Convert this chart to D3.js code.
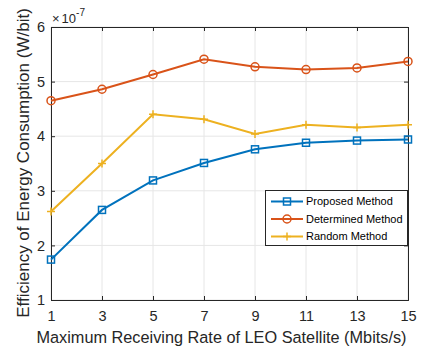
<!DOCTYPE html>
<html><head><meta charset="utf-8">
<script src="https://cdn.jsdelivr.net/npm/d3@7"></script>
<style>body{margin:0;background:#fff}svg{font-family:"Liberation Sans",Arial,sans-serif}</style>
</head><body><svg id="c" width="424" height="350"></svg>
<script>
const xValues = [1, 3, 5, 7, 9, 11, 13, 15];
const proposed = [1.74, 2.65, 3.19, 3.51, 3.76, 3.88, 3.92, 3.94];
const determined = [4.65, 4.86, 5.13, 5.41, 5.27, 5.22, 5.25, 5.37];
const randomM = [2.62, 3.50, 4.40, 4.31, 4.04, 4.21, 4.16, 4.21];
const yTicks = [1, 2, 3, 4, 5, 6];
const seriesNames = ["Proposed Method", "Determined Method", "Random Method"];
const colors = ["#0072BD", "#D95319", "#EDB120"];
const markers = ["square", "circle", "plus"];

const svg = d3.select("#c");
const L = 51, R = 408, T = 27, B = 300;
const x = d3.scaleLinear().domain([1, 15]).range([L, R]);
const y = d3.scaleLinear().domain([1, 6]).range([B, T]);
const axisCol = "#262626";

// grid
const g = svg.append("g");
g.selectAll(".gx").data(xValues).enter().append("line")
  .attr("x1", d => x(d)).attr("x2", d => x(d)).attr("y1", T).attr("y2", B)
  .attr("stroke", "#e6e6e6").attr("stroke-width", 1);
g.selectAll(".gy").data(yTicks).enter().append("line")
  .attr("x1", L).attr("x2", R).attr("y1", d => y(d)).attr("y2", d => y(d))
  .attr("stroke", "#e6e6e6").attr("stroke-width", 1);

// axes
const xa = svg.append("g").attr("transform", `translate(0,${B})`)
  .call(d3.axisBottom(x).tickValues(xValues).tickSize(-4).tickPadding(11).tickFormat(d3.format("d")));
const xt = svg.append("g").attr("transform", `translate(0,${T})`)
  .call(d3.axisTop(x).tickValues(xValues).tickSize(-4).tickFormat(""));
const ya = svg.append("g").attr("transform", `translate(${L},0)`)
  .call(d3.axisLeft(y).tickValues(yTicks).tickSize(-4).tickPadding(6).tickFormat(d3.format("d")));
const yr = svg.append("g").attr("transform", `translate(${R},0)`)
  .call(d3.axisRight(y).tickValues(yTicks).tickSize(-4).tickFormat(""));
[xa, xt, ya, yr].forEach(a => {
  a.selectAll("path").attr("stroke", axisCol).attr("stroke-width", 1);
  a.selectAll("line").attr("stroke", axisCol);
  a.selectAll("text").attr("fill", axisCol).style("font-size", "14.5px");
});
xa.selectAll("text").attr("dy", "0.71em");

// exponent label
const ex = svg.append("text").attr("x", L + 1).attr("y", 22.5).attr("fill", axisCol).style("font-size", "13px");
ex.append("tspan").text("×");
ex.append("tspan").attr("dx", 2).text("10");
ex.append("tspan").attr("dy", -7).style("font-size", "10px").text("-7");

// axis labels
svg.append("text").attr("x", 221.5).attr("y", 343).attr("text-anchor", "middle")
  .attr("fill", axisCol).style("font-size", "16.3px").text("Maximum Receiving Rate of LEO Satellite (Mbits/s)");
svg.append("text").attr("transform", `translate(29,163) rotate(-90)`).attr("text-anchor", "middle")
  .attr("fill", axisCol).style("font-size", "17px").text("Efficiency of Energy Consumption (W/bit)");

function drawMarker(sel, type, color, cx, cy) {
  if (type === "square") {
    sel.append("rect").attr("x", cx - 3.5).attr("y", cy - 3.5).attr("width", 7).attr("height", 7)
      .attr("fill", "none").attr("stroke", color).attr("stroke-width", 1.5);
  } else if (type === "circle") {
    sel.append("circle").attr("cx", cx).attr("cy", cy).attr("r", 4)
      .attr("fill", "none").attr("stroke", color).attr("stroke-width", 1.5);
  } else {
    sel.append("path").attr("d", `M${cx - 4},${cy}H${cx + 4}M${cx},${cy - 4}V${cy + 4}`)
      .attr("stroke", color).attr("stroke-width", 1.5);
  }
}

const data = [proposed, determined, randomM];
const line = d3.line().x((d, i) => x(xValues[i])).y(d => y(d));
data.forEach((s, k) => {
  const sg = svg.append("g");
  sg.append("path").datum(s).attr("d", line).attr("fill", "none")
    .attr("stroke", colors[k]).attr("stroke-width", 2);
  s.forEach((v, i) => drawMarker(sg, markers[k], colors[k], x(xValues[i]), y(v)));
});

// legend
const lg = svg.append("g");
lg.append("rect").attr("x", 265.5).attr("y", 190.5).attr("width", 142).attr("height", 55)
  .attr("fill", "#fff").attr("stroke", axisCol).attr("stroke-width", 1);
seriesNames.forEach((n, k) => {
  const cy = 201.5 + k * 17.5;
  lg.append("line").attr("x1", 271).attr("x2", 303).attr("y1", cy).attr("y2", cy)
    .attr("stroke", colors[k]).attr("stroke-width", 2);
  drawMarker(lg, markers[k], colors[k], 287, cy);
  lg.append("text").attr("x", 306).attr("y", cy).attr("dy", "0.35em").attr("fill", "#000")
    .style("font-size", "11px").text(n);
});
</script></body></html>
